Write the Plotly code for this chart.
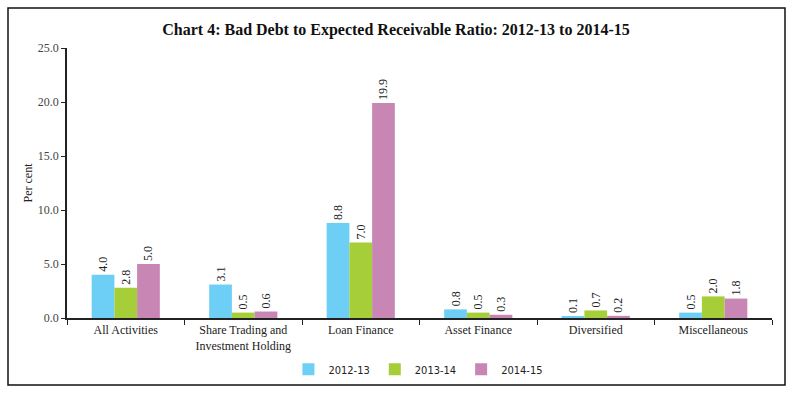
import plotly.graph_objects as go

categories = ["All Activities", "Share Trading and<br>Investment Holding", "Loan Finance",
              "Asset Finance", "Diversified", "Miscellaneous"]
series_names = ["2012-13", "2013-14", "2014-15"]
v_2012_13 = [4.0, 3.1, 8.8, 0.8, 0.1, 0.5]
v_2013_14 = [2.8, 0.5, 7.0, 0.5, 0.7, 2.0]
v_2014_15 = [5.0, 0.6, 19.9, 0.3, 0.2, 1.8]
colors = ["#6DCFF6", "#A6CE39", "#C886B4"]

FONT = "Liberation Serif"
fig = go.Figure()
for name, vals, c in zip(series_names, [v_2012_13, v_2013_14, v_2014_15], colors):
    fig.add_trace(go.Bar(
        x=categories, y=vals, name=name, marker_color=c,
        marker_line_width=0,
        text=[f"{v:.1f}" for v in vals], textposition="outside", textangle=-90,
        textfont=dict(family=FONT, size=12, color="#222"), cliponaxis=False,
    ))

fig.update_layout(
    template="none",
    width=792, height=393, barmode="group", bargap=0.42, bargroupgap=0,
    paper_bgcolor="white", plot_bgcolor="white",
    margin=dict(l=67, r=20, t=48, b=75, autoexpand=False),
    font=dict(family=FONT, size=12, color="#222"),
    title=dict(text="<b>Chart 4: Bad Debt to Expected Receivable Ratio: 2012-13 to 2014-15</b>",
               x=0.5, xanchor="center", y=1 - 29 / 393, yref="container", yanchor="middle",
               font=dict(family=FONT, size=16, color="#111")),
    legend=dict(orientation="h", x=0.4985, xanchor="center", y=-0.19, yanchor="middle",
                font=dict(family="DejaVu Sans Condensed, DejaVu Sans", size=11, color="#222"),
                itemwidth=30, traceorder="normal", bgcolor="rgba(0,0,0,0)"),
    showlegend=True,
)
fig.update_xaxes(showline=True, linecolor="#222", linewidth=1.5, ticks="outside",
                 tickson="boundaries", ticklen=5, tickcolor="#222", automargin=False,
                 tickfont=dict(family=FONT, size=12, color="#222"), showgrid=False)
fig.update_yaxes(range=[0, 25], dtick=5, tickformat=".1f", showline=True, linecolor="#222",
                 linewidth=1.5, ticks="outside", ticklen=4, tickcolor="#222", showgrid=False,
                 zeroline=False, automargin=False,
                 title=dict(text="Per cent", font=dict(family=FONT, size=12, color="#222"), standoff=3),
                 tickfont=dict(family=FONT, size=12, color="#444"))

fig.add_shape(type="rect", xref="paper", yref="paper",
              x0=(8 - 67) / 705, x1=(785 - 67) / 705,
              y0=(318 - 385) / 270, y1=(318 - 8) / 270,
              line=dict(color="#111", width=1.5), fillcolor="rgba(0,0,0,0)", layer="below")

fig.write_html("out.html", config={"displayModeBar": False},
               post_script="document.body.style.margin='0';")
